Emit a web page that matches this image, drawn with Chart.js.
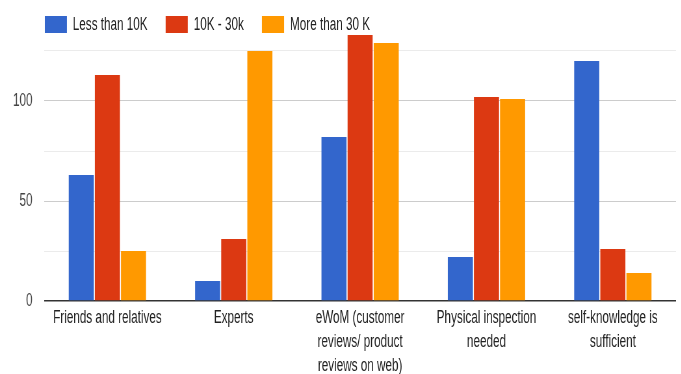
<!DOCTYPE html>
<html lang="en">
<head>
    <meta charset="UTF-8">
    <title>Information sources by income</title>
    <script src="https://cdn.jsdelivr.net/npm/chart.js"></script>
    <style>
        html, body {
            margin: 0;
            padding: 0;
            background: #fff;
            overflow: hidden;
        }
        /* chart is laid out wide and squeezed horizontally */
        .chart-wrap {
            position: relative;
            width: 1048px;
            height: 374px;
            transform: scaleX(0.65);
            transform-origin: 0 0;
            font-family: 'Liberation Sans', Arial, sans-serif;
        }
        .legend {
            position: absolute;
            top: 16px;
            left: 69px;
            display: flex;
            font-size: 18px;
            color: #222;
        }
        .legend-item {
            display: flex;
            align-items: center;
            margin-right: 28px;
            height: 17px;
        }
        .legend-item span.box {
            width: 34px;
            height: 17px;
            margin-right: 9px;
        }
    </style>
</head>
<body>
    <div class="chart-wrap">
        <canvas id="sourceChart"></canvas>
        <div class="legend" id="legend"></div>
    </div>

    <script>
        const categories = [
            ['Friends and relatives'],
            ['Experts'],
            ['eWoM (customer', 'reviews/ product', 'reviews on web)'],
            ['Physical inspection', 'needed'],
            ['self-knowledge is', 'sufficient']
        ];
        const seriesNames = ['Less than 10K', '10K - 30k', 'More than 30 K'];
        const lessThan10k = [63, 10, 82, 22, 120];
        const from10kTo30k = [113, 31, 133, 102, 26];
        const moreThan30k = [25, 125, 129, 101, 14];
        const yTicks = [0, 25, 50, 75, 100, 125];
        const yLabelled = [0, 50, 100];

        const colors = ['#3366cc', '#dc3912', '#ff9900'];
        const fontFamily = "'Liberation Sans', Arial, sans-serif";

        const chart = new Chart(document.getElementById('sourceChart').getContext('2d'), {
            type: 'bar',
            data: {
                labels: categories,
                datasets: [lessThan10k, from10kTo30k, moreThan30k].map((values, i) => ({
                    label: seriesNames[i],
                    data: values,
                    backgroundColor: colors[i],
                    borderWidth: 0,
                    barPercentage: 0.96,
                    categoryPercentage: 0.62
                }))
            },
            options: {
                responsive: true,
                maintainAspectRatio: false,
                animation: false,
                layout: {
                    padding: { top: 33, left: 0, right: 8, bottom: 0 }
                },
                plugins: {
                    legend: { display: false },
                    tooltip: { enabled: false }
                },
                scales: {
                    x: {
                        grid: { display: false, drawTicks: false },
                        border: { display: false },
                        ticks: {
                            color: '#222',
                            font: { family: fontFamily, size: 18, lineHeight: 1.33 },
                            padding: 5,
                            maxRotation: 0,
                            autoSkip: false
                        },
                        afterFit: (scale) => { scale.height = 73; }
                    },
                    y: {
                        min: 0,
                        max: 134,
                        afterBuildTicks: (scale) => {
                            scale.ticks = yTicks.map(v => ({ value: v }));
                        },
                        afterFit: (scale) => { scale.width = 68; },
                        border: { display: false },
                        grid: {
                            drawTicks: false,
                            lineWidth: (ctx) => ctx.tick && ctx.tick.value === 0 ? 1.5 : 1,
                            color: (ctx) => {
                                if (!ctx.tick) return '#ddd';
                                if (ctx.tick.value === 0) return '#333';
                                return yLabelled.includes(ctx.tick.value) ? '#cccccc' : '#ebebeb';
                            }
                        },
                        ticks: {
                            color: '#444',
                            font: { family: fontFamily, size: 18 },
                            padding: 18,
                            callback: (value) => yLabelled.includes(value) ? value : ''
                        }
                    }
                }
            }
        });

        // legend row built from the datasets
        const legendEl = document.getElementById('legend');
        chart.data.datasets.forEach((ds) => {
            const item = document.createElement('div');
            item.className = 'legend-item';
            const box = document.createElement('span');
            box.className = 'box';
            box.style.background = ds.backgroundColor;
            const text = document.createElement('span');
            text.textContent = ds.label;
            item.appendChild(box);
            item.appendChild(text);
            legendEl.appendChild(item);
        });
    </script>
</body>
</html>
